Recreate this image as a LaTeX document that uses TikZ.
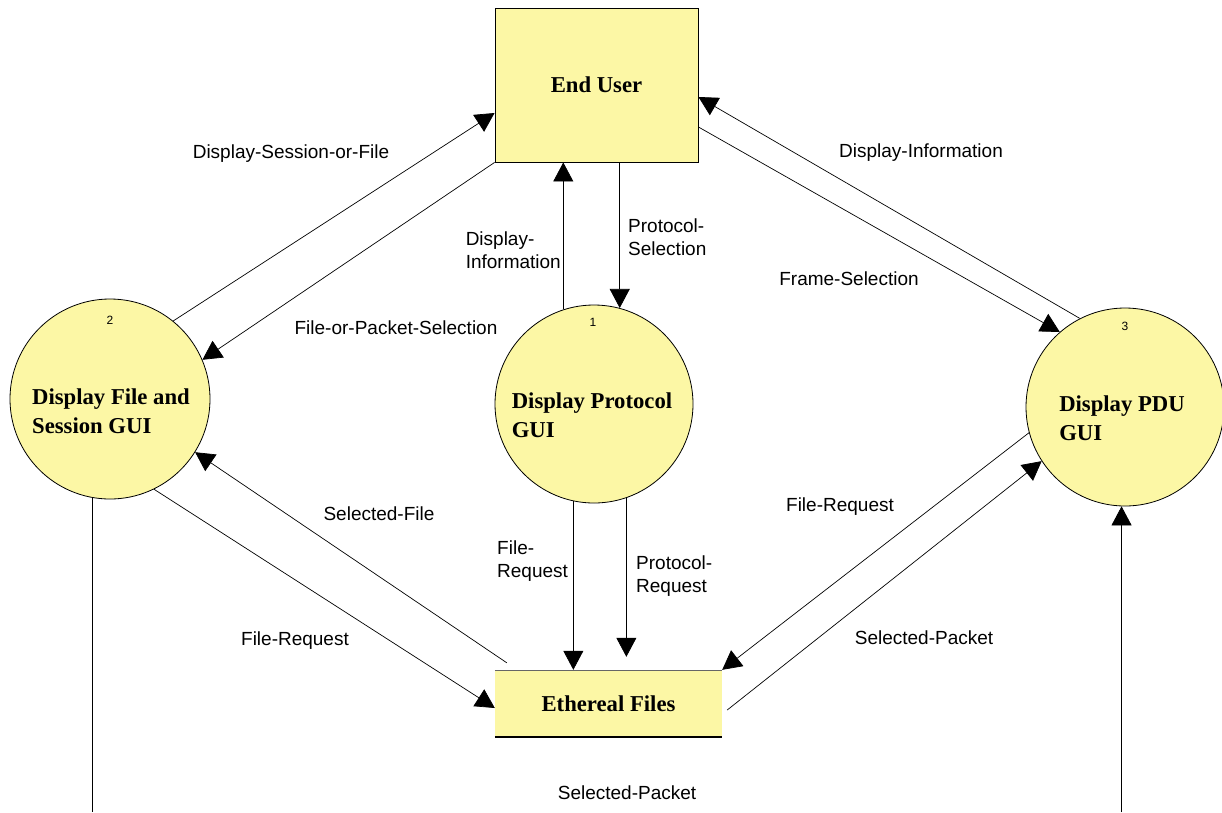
\documentclass[tikz,border=0pt]{standalone}
\usepackage{fontspec}
\setmainfont{Liberation Serif}
\newfontfamily\labfont{Liberation Sans}
\usetikzlibrary{arrows.meta}
\definecolor{procfill}{RGB}{252,247,165}

\begin{document}
\begin{tikzpicture}[x=1pt,y=-1pt,
  flow/.style={line width=0.7pt, -{Triangle[length=19pt,width=20pt]}},
  wire/.style={line width=0.7pt},
  lbl/.style={font=\labfont\fontsize{19}{23}\selectfont, inner sep=0pt, align=left},
  ttl/.style={font=\bfseries\fontsize{22.7}{28.5}\selectfont, inner sep=0pt, align=left},
  num/.style={font=\labfont\fontsize{12}{12}\selectfont, inner sep=0pt},
  proc/.style={circle, draw, line width=0.8pt, fill=procfill, minimum size=198pt, inner sep=0pt},
]
\path[use as bounding box, fill=white] (0,0) rectangle (1222,812);

% external entity and data store
\node[draw, line width=0.9pt, fill=procfill, minimum width=203pt, minimum height=154pt, ttl] (eu) at (596.5,85) {End User};
\node[fill=procfill, minimum width=227pt, minimum height=67pt, ttl] (ef) at (608.5,703.5) {Ethereal Files};
\draw[line width=0.6pt, black!60] (ef.north west) -- (ef.north east);
\draw[line width=1.6pt] (ef.south west) -- (ef.south east);

% processes
\node[proc, minimum size=200pt] (c2) at (110,399) {};
\node[proc] (c1) at (594,404) {};
\node[proc] (c3) at (1125,407) {};
\node[ttl] (c2t) at (111,411) {Display File and\\Session GUI};
\node[ttl] (c1t) at (592,415) {Display Protocol\\GUI};
\node[ttl] (c3t) at (1122,418) {Display PDU\\GUI};
\node[num] (c2n) at (110,320) {2};
\node[num] (c1n) at (593,322) {1};
\node[num] (c3n) at (1125,326) {3};

% data flows
\draw[flow] (c2.51) -- ([yshift=-28pt]eu.west);
\draw[flow] (eu.south west) -- (c2.23);
\draw[flow] (c3.117) -- ([yshift=-12pt]eu.east);
\draw[flow] ([yshift=-42pt]eu.east) -- (c3.131);
\draw[flow] (c1.108) -- (c1.108 |- eu.south);
\draw[flow] (eu.south -| c1.75) -- (c1.75);
\draw[flow] ([shift={(12pt,7pt)}]ef.north west) -- (c2.-32);
\draw[flow] (c2.-64) -- ([yshift=-4.5pt]ef.west);
\draw[flow] (c1.-102) -- (c1.-102 |- ef.north);
\path (c1.-71 |- ef.north) ++(0,-13) coordinate (prq);
\draw[flow] (c1.-71) -- (prq);
\draw[flow] (c3.-165) -- (ef.north east);
\draw[flow] ([shift={(5pt,-6.5pt)}]ef.east) -- (c3.-147);
\coordinate (bl) at (0,812);
\draw[wire] (c2.-100) -- (c2.-100 |- bl);
\draw[flow] (c3.-92 |- bl) -- (c3.-92);

% flow labels
\node[lbl] (l1) at (291,154) {Display-Session-or-File};
\node[lbl] (l2) at (396,328) {File-or-Packet-Selection};
\node[lbl, anchor=east] (l3) at (561,250) {Display-\\Information};
\node[lbl, anchor=west] (l4) at (628,237) {Protocol-\\Selection};
\node[lbl] (l5) at (921,153) {Display-Information};
\node[lbl] (l6) at (849,279) {Frame-Selection};
\node[lbl] (l7) at (379,514) {Selected-File};
\node[lbl] (l8) at (295,641) {File-Request};
\node[lbl, anchor=west] (l9) at (497,561) {File-\\Request};
\node[lbl, anchor=west] (l10) at (636,576) {Protocol-\\Request};
\node[lbl] (l11) at (840,507) {File-Request};
\node[lbl] (l12) at (924,638) {Selected-Packet};
\node[lbl] (l13) at (627,793) {Selected-Packet};
\end{tikzpicture}
\end{document}
